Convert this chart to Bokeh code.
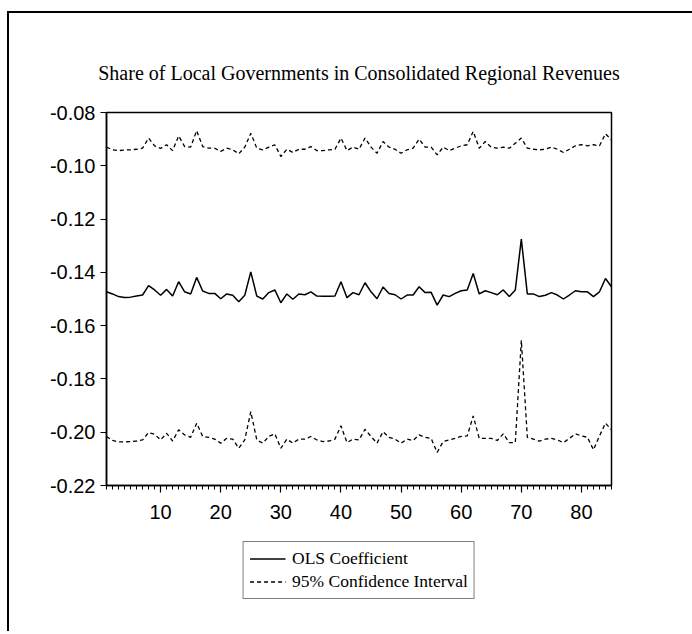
from bokeh.plotting import figure
from bokeh.layouts import column
from bokeh.models import Range1d, FixedTicker, NumeralTickFormatter, Legend, LegendItem
from bokeh.embed import file_html
from bokeh.resources import INLINE

obs = list(range(1, 86))

ols = [-0.1473, -0.1481, -0.1491, -0.1494, -0.1493, -0.1489, -0.1485, -0.1450, -0.1466, -0.1486,
       -0.1464, -0.1489, -0.1435, -0.1473, -0.1481, -0.1419, -0.1470, -0.1479, -0.1479, -0.1499,
       -0.1481, -0.1486, -0.1510, -0.1486, -0.1398, -0.1489, -0.1500, -0.1476, -0.1466, -0.1514,
       -0.1481, -0.1501, -0.1481, -0.1484, -0.1473, -0.1489, -0.1490, -0.1490, -0.1489, -0.1435,
       -0.1495, -0.1476, -0.1484, -0.1439, -0.1473, -0.1499, -0.1455, -0.1479, -0.1484, -0.1500,
       -0.1485, -0.1485, -0.1454, -0.1476, -0.1475, -0.1523, -0.1485, -0.1491, -0.1479, -0.1469,
       -0.1466, -0.1404, -0.1481, -0.1469, -0.1476, -0.1484, -0.1466, -0.1491, -0.1466, -0.1275,
       -0.1481, -0.1481, -0.1491, -0.1486, -0.1476, -0.1485, -0.1500, -0.1485, -0.1469, -0.1473,
       -0.1473, -0.1491, -0.1473, -0.1423, -0.1454]

upper = [-0.0930, -0.0940, -0.0943, -0.0941, -0.0940, -0.0938, -0.0934, -0.0896, -0.0925, -0.0935,
         -0.0921, -0.0943, -0.0888, -0.0928, -0.0930, -0.0868, -0.0928, -0.0934, -0.0934, -0.0946,
         -0.0934, -0.0940, -0.0955, -0.0930, -0.0878, -0.0934, -0.0940, -0.0930, -0.0921, -0.0965,
         -0.0938, -0.0950, -0.0938, -0.0938, -0.0928, -0.0943, -0.0943, -0.0940, -0.0938, -0.0896,
         -0.0943, -0.0930, -0.0938, -0.0896, -0.0930, -0.0953, -0.0909, -0.0930, -0.0938, -0.0953,
         -0.0940, -0.0934, -0.0900, -0.0930, -0.0930, -0.0959, -0.0930, -0.0943, -0.0934, -0.0925,
         -0.0921, -0.0871, -0.0934, -0.0909, -0.0930, -0.0934, -0.0930, -0.0934, -0.0915, -0.0896,
         -0.0934, -0.0938, -0.0940, -0.0938, -0.0930, -0.0938, -0.0950, -0.0938, -0.0925, -0.0921,
         -0.0925, -0.0921, -0.0925, -0.0880, -0.0903]

lower = [-0.2016, -0.2031, -0.2036, -0.2036, -0.2035, -0.2033, -0.2029, -0.2001, -0.2008, -0.2029,
         -0.2004, -0.2033, -0.1991, -0.2010, -0.2019, -0.1966, -0.2016, -0.2019, -0.2026, -0.2041,
         -0.2023, -0.2026, -0.2060, -0.2029, -0.1923, -0.2029, -0.2041, -0.2016, -0.2006, -0.2060,
         -0.2026, -0.2041, -0.2026, -0.2026, -0.2016, -0.2029, -0.2035, -0.2033, -0.2026, -0.1976,
         -0.2039, -0.2026, -0.2029, -0.1989, -0.2016, -0.2041, -0.1998, -0.2019, -0.2026, -0.2041,
         -0.2026, -0.2031, -0.2010, -0.2019, -0.2023, -0.2076, -0.2035, -0.2029, -0.2023, -0.2016,
         -0.2014, -0.1939, -0.2023, -0.2023, -0.2023, -0.2031, -0.2006, -0.2039, -0.2039, -0.1655,
         -0.2019, -0.2026, -0.2033, -0.2026, -0.2023, -0.2029, -0.2039, -0.2023, -0.2006, -0.2014,
         -0.2019, -0.2066, -0.2014, -0.1966, -0.1991]

y_ticks = [-0.22, -0.20, -0.18, -0.16, -0.14, -0.12, -0.10, -0.08]
x_ticks = [10, 20, 30, 40, 50, 60, 70, 80]

title_text = "Share of Local Governments in Consolidated Regional Revenues"
label_ols = "OLS Coefficient"
label_ci = "95% Confidence Interval"

W = 683

p = figure(width=W, height=528, output_backend="svg", toolbar_location=None,
           x_range=Range1d(1, 85), y_range=Range1d(-0.22, -0.08),
           min_border_left=97, min_border_right=81, min_border_top=99, min_border_bottom=56)

p.title.text = title_text
p.title.text_font = "Liberation Serif"
p.title.text_font_size = "20px"
p.title.text_font_style = "normal"
p.title.text_color = "black"
p.title.align = "center"
p.title.standoff = 58

p.grid.visible = False
p.outline_line_color = "black"
p.outline_line_width = 1.5
p.background_fill_color = "white"
p.border_fill_color = "white"

r_ols = p.line(obs, ols, line_color="black", line_width=1.5)
r_up = p.line(obs, upper, line_color="black", line_width=1.3, line_dash="4 3")
r_lo = p.line(obs, lower, line_color="black", line_width=1.3, line_dash="4 3")

ya = p.yaxis[0]
ya.ticker = FixedTicker(ticks=y_ticks, minor_ticks=[])
ya.formatter = NumeralTickFormatter(format="0.00")
ya.major_label_text_font = "Liberation Sans"
ya.major_label_text_font_size = "20px"
ya.major_label_text_color = "black"
ya.major_tick_out = 6
ya.major_tick_in = 0
ya.minor_tick_out = 0
ya.minor_tick_in = 0
ya.axis_line_width = 1.5
ya.major_tick_line_width = 1.2
ya.major_label_standoff = 5

xa = p.xaxis[0]
xa.ticker = FixedTicker(ticks=x_ticks, minor_ticks=obs)
xa.major_label_text_font = "Liberation Sans"
xa.major_label_text_font_size = "20px"
xa.major_label_text_color = "black"
xa.major_tick_out = 7
xa.major_tick_in = 0
xa.minor_tick_out = 4
xa.minor_tick_in = 0
xa.axis_line_width = 1.5
xa.major_tick_line_width = 1.2
xa.minor_tick_line_width = 1
xa.major_label_standoff = 12

# legend panel below the chart (legend proxies are drawn outside its visible range)
p2 = figure(width=W, height=90, output_backend="svg", toolbar_location=None,
            x_range=Range1d(0, 1), y_range=Range1d(0, 1),
            x_axis_location=None, y_axis_location=None,
            min_border_left=97, min_border_right=81, min_border_top=0, min_border_bottom=0)
p2.grid.visible = False
p2.outline_line_color = None
p2.background_fill_color = "white"
p2.border_fill_color = "white"
g_ols = p2.line(obs, ols, line_color="black", line_width=1.5)
g_ci = p2.line(obs, upper, line_color="black", line_width=1.3, line_dash="4 3")

legend = Legend(items=[LegendItem(label=label_ols, renderers=[g_ols]),
                       LegendItem(label=label_ci, renderers=[g_ci])],
                location="top_center", orientation="vertical",
                label_text_font="Liberation Serif", label_text_font_size="17.5px",
                label_text_color="black",
                border_line_color="black", border_line_width=1,
                glyph_width=36, glyph_height=21, label_height=21, label_standoff=7,
                padding=6, spacing=2, margin=0, background_fill_alpha=1)
p2.add_layout(legend, "center")

layout = column(p, p2, spacing=0,
                styles={"margin-top": "11px", "margin-left": "7px",
                        "border-top": "2px solid black", "border-left": "2px solid black"})

open("out.html", "w").write(file_html(layout, INLINE))
